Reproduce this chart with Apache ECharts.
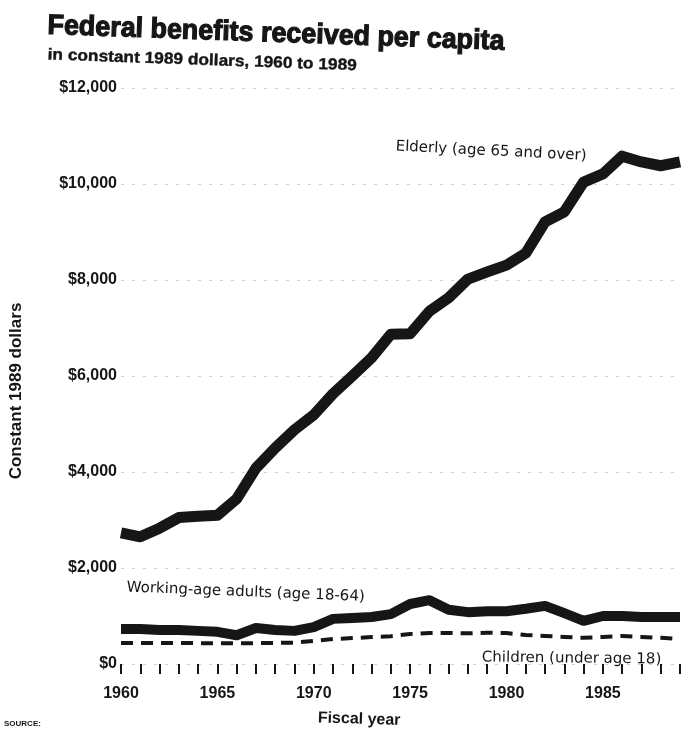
<!DOCTYPE html>
<html>
<head>
<meta charset="utf-8">
<script src="https://cdn.jsdelivr.net/npm/echarts@6/dist/echarts.min.js"></script>
<style>
html,body{margin:0;padding:0;background:#fff;}
#chart{width:690px;height:731px;}
</style>
</head>
<body>
<div id="chart"></div>
<script>
const years = ['1960','1961','1962','1963','1964','1965','1966','1967','1968','1969',
  '1970','1971','1972','1973','1974','1975','1976','1977','1978','1979',
  '1980','1981','1982','1983','1984','1985','1986','1987','1988','1989'];
const elderly = [2730,2650,2830,3050,3080,3100,3440,4080,4500,4880,
  5190,5630,6000,6380,6870,6880,7350,7630,8020,8170,
  8310,8560,9210,9420,10040,10210,10580,10460,10380,10460];
const workingAge = [730,730,710,710,690,670,600,750,710,690,
  770,940,960,980,1040,1250,1330,1130,1080,1100,
  1100,1150,1210,1060,900,1000,1000,980,980,980];
const children = [440,440,440,440,435,430,430,435,440,445,
  480,520,540,560,580,625,645,645,640,650,
  645,605,585,565,545,565,585,565,545,520];
const yMin = 0, yMax = 12000, yStep = 2000;

const ink = '#161616';
const chart = echarts.init(document.getElementById('chart'));
chart.setOption({
  backgroundColor: '#ffffff',
  animation: false,
  grid: {left: 118, right: 10, top: 88, bottom: 67},
  xAxis: {
    type: 'category',
    data: years,
    boundaryGap: false,
    offset: 8,
    axisLine: {show: false},
    axisTick: {show: true, alignWithLabel: true, interval: 0, length: 10, lineStyle: {color: ink, width: 2}},
    axisLabel: {interval: 4, margin: 14, color: ink, fontFamily: 'Liberation Sans', fontWeight: 'bold', fontSize: 16},
    splitLine: {show: false}
  },
  yAxis: {
    type: 'value',
    min: yMin, max: yMax, interval: yStep,
    name: 'Constant 1989 dollars',
    nameLocation: 'middle',
    nameRotate: 90,
    nameGap: 96,
    nameTextStyle: {color: ink, fontFamily: 'Liberation Sans', fontWeight: 'bold', fontSize: 17, padding: [0, 30, 0, 0]},
    axisLine: {show: false},
    axisTick: {show: false},
    axisLabel: {
      margin: 4, color: ink, fontFamily: 'Liberation Sans', fontWeight: 'bold', fontSize: 16,
      formatter: v => '$' + v.toLocaleString('en-US')
    },
    splitLine: {show: true, lineStyle: {color: '#d2d2d2', type: [3, 8], width: 1}}
  },
  series: [
    {name: 'Elderly (age 65 and over)', type: 'line', data: elderly, symbol: 'none',
      lineStyle: {color: ink, width: 11, join: 'round'}},
    {name: 'Working-age adults (age 18-64)', type: 'line', data: workingAge, symbol: 'none',
      lineStyle: {color: ink, width: 10, join: 'round'}},
    {name: 'Children (under age 18)', type: 'line', data: children, symbol: 'none',
      lineStyle: {color: ink, width: 4, type: [12, 8]}}
  ],
  graphic: [
    {type: 'text', x: 48, y: 12, rotation: -0.035, scaleX: 0.96,
      style: {text: 'Federal benefits received per capita', fill: ink, stroke: ink, lineWidth: 1.2,
        font: '900 28px "Liberation Sans"'}},
    {type: 'text', x: 48, y: 47, rotation: -0.035, scaleX: 1.08,
      style: {text: 'in constant 1989 dollars, 1960 to 1989', fill: ink, stroke: ink, lineWidth: 0.4,
        font: 'bold 16px "Liberation Sans"'}},
    {type: 'text', x: 396, y: 139, rotation: -0.05,
      style: {text: 'Elderly (age 65 and over)', fill: ink, font: '15px "DejaVu Sans"'}},
    {type: 'text', x: 127, y: 580, rotation: -0.04,
      style: {text: 'Working-age adults (age 18-64)', fill: ink, font: '15px "DejaVu Sans"'}},
    {type: 'text', x: 482, y: 650, rotation: -0.012,
      style: {text: 'Children (under age 18)', fill: ink, font: '15px "DejaVu Sans"'}},
    {type: 'text', x: 318, y: 710, rotation: -0.03,
      style: {text: 'Fiscal year', fill: ink, font: 'bold 16px "Liberation Sans"'}},
    {type: 'text', x: 4, y: 720,
      style: {text: 'SOURCE:', fill: ink, font: 'bold 8px "Liberation Sans"'}}
  ]
});
</script>
</body>
</html>
